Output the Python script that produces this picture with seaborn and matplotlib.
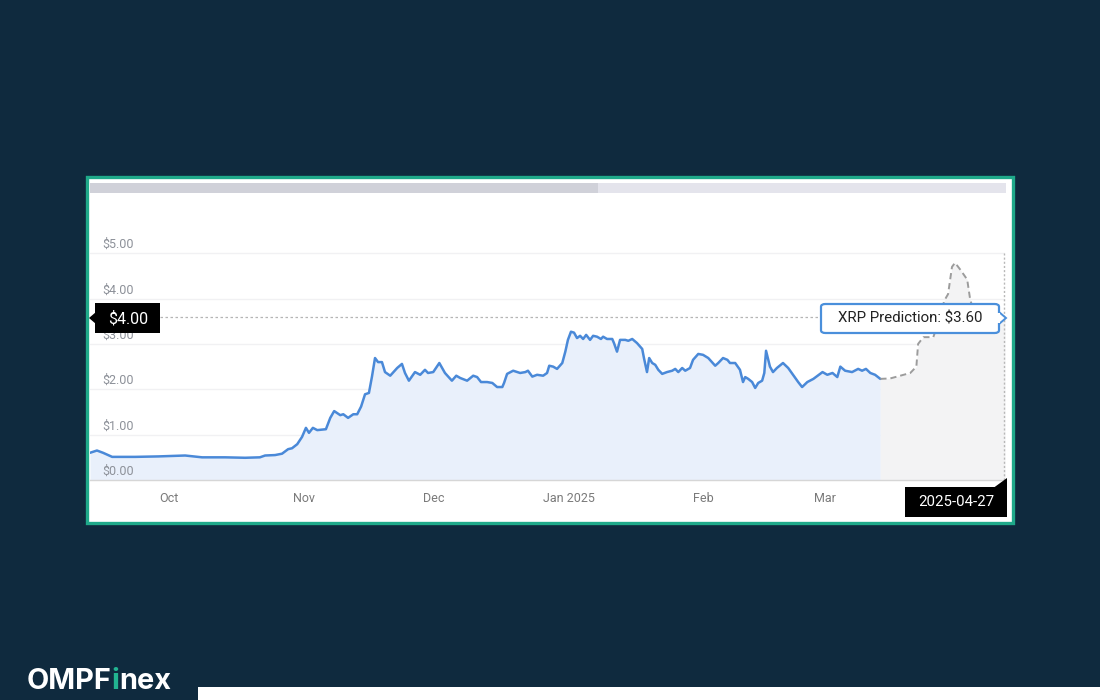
import pandas as pd
import matplotlib
matplotlib.use("Agg")
import matplotlib.pyplot as plt
import seaborn as sns
from matplotlib.patches import Rectangle, Polygon, FancyBboxPatch

# ===============================
# Data
# ===============================
# days since 2024-10-01 / XRP price in USD
day_offset = [-18.2, -16.6, -15.2, -13.1, -7.8, -2.5, 3.7, 7.6, 12.9, 17.5, 20.9, 22.1,
              24.4, 26.0, 27.4, 28.3, 29.5, 30.6, 31.5, 32.2, 33.1, 34.1, 36.1, 37.1,
              38.0, 39.4, 40.1, 41.2, 42.4, 43.3, 44.2, 45.1, 46.0, 46.7, 47.4, 48.1,
              49.0, 49.7, 50.9, 52.5, 53.6, 54.3, 55.2, 56.6, 57.8, 58.9, 59.6, 60.8,
              62.2, 63.5, 65.1, 66.1, 67.0, 68.6, 70.0, 70.9, 71.8, 73.2, 74.4, 75.5,
              76.7, 77.1, 77.8, 79.2, 80.8, 82.0, 82.6, 83.6, 84.7, 86.1, 87.0, 87.5,
              88.4, 89.3, 90.5, 91.2, 91.8, 92.5, 93.2, 93.9, 94.6, 95.3, 96.0, 96.9,
              97.6, 98.5, 99.4, 99.9, 100.8, 102.0, 102.4, 103.1, 103.8, 105.0, 105.7,
              106.6, 107.7, 108.9, 109.3, 110.0, 110.5, 111.2, 111.9, 112.6, 113.5,
              114.6, 115.8, 116.5, 117.2, 118.1, 118.8, 119.9, 120.6, 121.8, 122.9,
              124.1, 125.7, 126.4, 127.5, 128.5, 129.1, 130.3, 131.4, 132.1, 132.6,
              133.3, 134.2, 134.9, 135.6, 136.5, 137.0, 137.4, 138.3, 139.0, 139.9,
              141.3, 142.5, 143.6, 144.8, 145.7, 146.9, 148.3, 150.4, 151.5, 152.7,
              153.8, 154.5, 155.6, 157.2, 158.6, 159.5, 160.4, 161.4, 162.5, 163.7]
price = [0.60, 0.65, 0.60, 0.51, 0.51, 0.52, 0.54, 0.50, 0.50, 0.49, 0.50, 0.54,
         0.55, 0.58, 0.68, 0.70, 0.79, 0.95, 1.15, 1.04, 1.15, 1.10, 1.12, 1.37,
         1.52, 1.43, 1.45, 1.37, 1.45, 1.45, 1.62, 1.89, 1.92, 2.28, 2.69, 2.60,
         2.60, 2.38, 2.30, 2.47, 2.56, 2.36, 2.19, 2.38, 2.32, 2.43, 2.36, 2.38,
         2.58, 2.36, 2.19, 2.30, 2.25, 2.19, 2.30, 2.27, 2.16, 2.16, 2.14, 2.05,
         2.05, 2.14, 2.34, 2.41, 2.36, 2.38, 2.41, 2.28, 2.32, 2.30, 2.36, 2.52,
         2.50, 2.45, 2.58, 2.83, 3.09, 3.27, 3.25, 3.13, 3.18, 3.11, 3.20, 3.09,
         3.18, 3.16, 3.11, 3.16, 3.11, 3.11, 3.02, 2.83, 3.09, 3.09, 3.07,
         3.11, 3.02, 2.89, 2.69, 2.38, 2.69, 2.58, 2.54, 2.43, 2.34,
         2.38, 2.41, 2.45, 2.38, 2.47, 2.41, 2.47, 2.65, 2.78, 2.76,
         2.69, 2.52, 2.58, 2.69, 2.65, 2.58, 2.58, 2.43, 2.16, 2.27,
         2.23, 2.16, 2.03, 2.14, 2.19, 2.36, 2.85, 2.50, 2.38, 2.47,
         2.58, 2.47, 2.32, 2.16, 2.05, 2.16, 2.23, 2.38, 2.32, 2.36,
         2.27, 2.50, 2.41, 2.38, 2.45, 2.41, 2.45, 2.36, 2.32, 2.23]

pred_offset = [163.7, 166.0, 168.3, 170.6, 172.0, 172.4, 173.6, 175.9, 177.5, 178.4,
               179.3, 180.2, 180.9, 182.1, 183.7, 184.4, 185.5, 192.4]
pred_price = [2.23, 2.24, 2.30, 2.36, 2.50, 3.00, 3.15, 3.15, 3.60, 3.95,
              4.10, 4.70, 4.79, 4.64, 4.42, 3.97, 3.65, 3.60]

x_range = [-18.2, 192.4]
month_ticks = ["2024-10-01", "2024-11-01", "2024-12-01", "2025-01-01", "2025-02-01", "2025-03-01"]
month_labels = ["Oct", "Nov", "Dec", "Jan 2025", "Feb", "Mar"]
y_ticks = [0, 1, 2, 3, 4, 5]
y_labels = ["$0.00", "$1.00", "$2.00", "$3.00", "$4.00", "$5.00"]
crosshair_value = 3.6

# ===============================
# Style
# ===============================
sns.set_style("white")
plt.rcParams["font.family"] = ["Roboto", "DejaVu Sans"]

BG = "#0f2a3e"
TEAL = "#1fa98a"
BLUE = "#4a89d8"

W, H = 1100, 700

def px(x, y):
    # pixel (top-left origin) -> figure fraction
    return (x / W, 1 - y / H)

fig = plt.figure(figsize=(11, 7), dpi=100, facecolor=BG)

# white card with teal border
fig.add_artist(Rectangle(px(87, 523), 926 / W, 346 / H, transform=fig.transFigure,
                         facecolor="white", edgecolor=TEAL, lw=2.4, zorder=-2))
# scrollbar on top of the card
fig.add_artist(Rectangle(px(90, 193), 916 / W, 10 / H, transform=fig.transFigure,
                         facecolor="#e4e4ec", edgecolor="none", zorder=-1))
fig.add_artist(Rectangle(px(90, 193), 508 / W, 10 / H, transform=fig.transFigure,
                         facecolor="#d0d1d9", edgecolor="none", zorder=-1))

# ===============================
# Chart
# ===============================
ax = fig.add_axes([90 / W, 220 / H, 915 / W, 229 / H])
ax.set_facecolor("white")

base = pd.Timestamp("2024-10-01")
hist_dates = base + pd.to_timedelta(day_offset, unit="D")
pred_dates = base + pd.to_timedelta(pred_offset, unit="D")
x0 = base + pd.Timedelta(days=x_range[0])
x1 = base + pd.Timedelta(days=x_range[1])

ax.fill_between(hist_dates, price, color="#e9f0fb", zorder=1, lw=0)
ax.fill_between(pred_dates, pred_price, color="#f3f3f4", zorder=1, lw=0)

sns.lineplot(x=hist_dates, y=price, ax=ax, color=BLUE, linewidth=1.8, zorder=3)
sns.lineplot(x=pred_dates, y=pred_price, ax=ax, color="#9c9c9c", linewidth=1.4,
             linestyle=(0, (3.2, 2)), zorder=3)

ax.set_xlim(x0, x1)
ax.set_ylim(0, 5.05)
ax.set_yticks(y_ticks)
ax.set_yticklabels([])
ax.yaxis.grid(True, color="#f1f1f3", lw=1)
ax.set_axisbelow(True)
ax.tick_params(axis="y", length=0)

ax.set_xticks(pd.to_datetime(month_ticks))
ax.set_xticklabels(month_labels, color="#7a7a7a", fontsize=9)
ax.tick_params(axis="x", length=0, pad=9)
ax.set_xlabel("")
ax.set_ylabel("")

for s in ["top", "left", "right"]:
    ax.spines[s].set_visible(False)
ax.spines["bottom"].set_color("#d6d6d6")
ax.spines["bottom"].set_linewidth(1)

for v, lab in zip(y_ticks, y_labels):
    ax.annotate(lab, xy=(0.013, v), xycoords=("axes fraction", "data"),
                xytext=(0, 1.5), textcoords="offset points", va="bottom", ha="left",
                fontsize=9, color="#8d9199", zorder=2)

# crosshair lines
ax.axhline(crosshair_value, color="#b5b5b5", lw=0.9, ls=(0, (2, 2)), zorder=2)
ax.axvline(x1 - pd.Timedelta(days=0.2), ymax=0.99, color="#b8b8b8", lw=1,
           ls=(0, (1.5, 1.5)), zorder=2, clip_on=False)

# ===============================
# Tooltips
# ===============================
# left price tag
fig.add_artist(Rectangle(px(95, 333), 65 / W, 30 / H, transform=fig.transFigure,
                         facecolor="black", edgecolor="none", zorder=10))
fig.add_artist(Polygon([px(89, 318), px(96, 312), px(96, 324)], closed=True,
                       transform=fig.transFigure, facecolor="black", edgecolor="none", zorder=10))
fig.text(*px(128, 318.5), "$4.00", color="white", fontsize=11.5, ha="center", va="center", zorder=11)

# prediction tooltip
fig.add_artist(FancyBboxPatch(px(821, 333), 178 / W, 29 / H,
                              boxstyle="round,pad=0,rounding_size=0.004",
                              transform=fig.transFigure, facecolor="white",
                              edgecolor="#4a8fdb", lw=1.6, zorder=10))
fig.add_artist(Polygon([px(999, 312), px(1006, 318), px(999, 324)], closed=True,
                       transform=fig.transFigure, facecolor="white",
                       edgecolor="#4a8fdb", lw=1.4, zorder=10))
fig.add_artist(Rectangle(px(996, 323), 4 / W, 10 / H, transform=fig.transFigure,
                         facecolor="white", edgecolor="none", zorder=10))
fig.text(*px(910, 319), "XRP Prediction: $3.60", color="#222222", fontsize=10.8,
         ha="center", va="center", zorder=11)

# date tag
fig.add_artist(Rectangle(px(905, 517), 102 / W, 30 / H, transform=fig.transFigure,
                         facecolor="black", edgecolor="none", zorder=10))
fig.add_artist(Polygon([px(994, 487.5), px(1007, 478), px(1007, 487.5)], closed=True,
                       transform=fig.transFigure, facecolor="black", edgecolor="none", zorder=10))
fig.text(*px(956, 502), "2025-04-27", color="white", fontsize=10.8,
         ha="center", va="center", zorder=11)

# ===============================
# Logo + footer bar
# ===============================
fig.add_artist(Rectangle(px(198, 700), 902 / W, 13 / H, transform=fig.transFigure,
                         facecolor="white", edgecolor="none", zorder=1))

logo_font = dict(fontsize=20.8, fontweight="bold", family=["Inter", "DejaVu Sans"],
                 ha="left", va="baseline")
t1 = fig.text(*px(27, 689), "OMPF", color="white", **logo_font)
fig.canvas.draw()
r = fig.canvas.get_renderer()
bb = t1.get_window_extent(r)
t2 = fig.text(bb.x1 / W, 1 - 689 / H, "i", color="#22b491", **logo_font)
bb2 = t2.get_window_extent(r)
fig.text(bb2.x1 / W, 1 - 689 / H, "nex", color="white", **logo_font)

plt.savefig("out.png", dpi=100, facecolor=BG)
plt.close()
